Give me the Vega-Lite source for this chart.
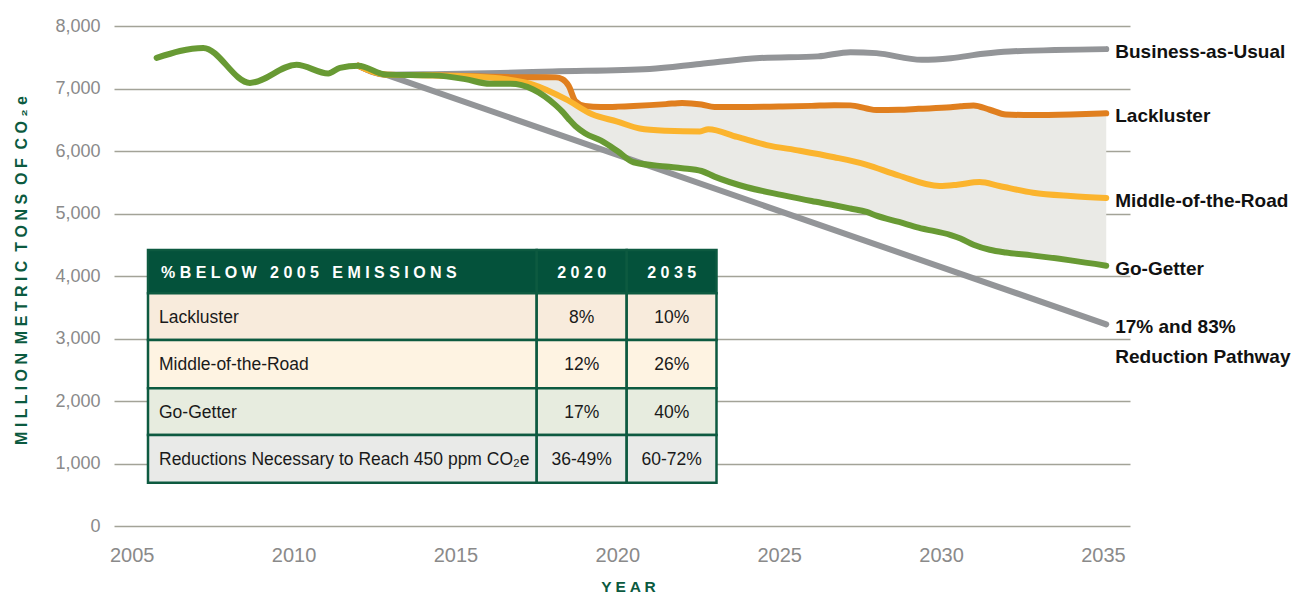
{
  "$schema": "https://vega.github.io/schema/vega-lite/v6.json",
  "width": 1016,
  "height": 500,
  "autosize": "none",
  "padding": {"left": 114, "top": 26, "right": 168, "bottom": 68},
  "background": "white",
  "config": {
    "view": {"stroke": null},
    "font": "Liberation Sans",
    "axis": {"labelFont": "Liberation Sans", "titleFont": "Liberation Sans"}
  },
  "datasets": {
    "lines": [
      {"series": "Go-Getter", "year": 2005.77, "value": 7490},
      {"series": "Go-Getter", "year": 2007.21, "value": 7650},
      {"series": "Go-Getter", "year": 2008.65, "value": 7090},
      {"series": "Go-Getter", "year": 2010.09, "value": 7380},
      {"series": "Go-Getter", "year": 2011.07, "value": 7240},
      {"series": "Go-Getter", "year": 2011.43, "value": 7330},
      {"series": "Go-Getter", "year": 2012.0, "value": 7365},
      {"series": "Go-Getter", "year": 2012.85, "value": 7222},
      {"series": "Go-Getter", "year": 2014.3, "value": 7210},
      {"series": "Go-Getter", "year": 2015.3, "value": 7150},
      {"series": "Go-Getter", "year": 2016.06, "value": 7075},
      {"series": "Go-Getter", "year": 2016.7, "value": 7075},
      {"series": "Go-Getter", "year": 2017.4, "value": 6985},
      {"series": "Go-Getter", "year": 2018.1, "value": 6730},
      {"series": "Go-Getter", "year": 2018.3, "value": 6630},
      {"series": "Go-Getter", "year": 2018.5, "value": 6510},
      {"series": "Go-Getter", "year": 2018.7, "value": 6400},
      {"series": "Go-Getter", "year": 2019.0, "value": 6285},
      {"series": "Go-Getter", "year": 2019.5, "value": 6165},
      {"series": "Go-Getter", "year": 2020.0, "value": 6000},
      {"series": "Go-Getter", "year": 2020.5, "value": 5820},
      {"series": "Go-Getter", "year": 2021.5, "value": 5752},
      {"series": "Go-Getter", "year": 2022.0, "value": 5725},
      {"series": "Go-Getter", "year": 2022.6, "value": 5680},
      {"series": "Go-Getter", "year": 2023.0, "value": 5590},
      {"series": "Go-Getter", "year": 2024.0, "value": 5420},
      {"series": "Go-Getter", "year": 2025.1, "value": 5295},
      {"series": "Go-Getter", "year": 2026.0, "value": 5200},
      {"series": "Go-Getter", "year": 2026.7, "value": 5133},
      {"series": "Go-Getter", "year": 2027.2, "value": 5080},
      {"series": "Go-Getter", "year": 2027.7, "value": 5025},
      {"series": "Go-Getter", "year": 2028.0, "value": 4965},
      {"series": "Go-Getter", "year": 2028.7, "value": 4865},
      {"series": "Go-Getter", "year": 2029.3, "value": 4775},
      {"series": "Go-Getter", "year": 2030.3, "value": 4655},
      {"series": "Go-Getter", "year": 2030.6, "value": 4600},
      {"series": "Go-Getter", "year": 2031.0, "value": 4500},
      {"series": "Go-Getter", "year": 2031.5, "value": 4420},
      {"series": "Go-Getter", "year": 2032.0, "value": 4375},
      {"series": "Go-Getter", "year": 2032.8, "value": 4330},
      {"series": "Go-Getter", "year": 2034.0, "value": 4250},
      {"series": "Go-Getter", "year": 2035.1, "value": 4165},

      {"series": "Lackluster", "year": 2012.0, "value": 7365},
      {"series": "Lackluster", "year": 2012.85, "value": 7222},
      {"series": "Lackluster", "year": 2014.3, "value": 7212},
      {"series": "Lackluster", "year": 2015.3, "value": 7200},
      {"series": "Lackluster", "year": 2016.06, "value": 7188},
      {"series": "Lackluster", "year": 2016.7, "value": 7182},
      {"series": "Lackluster", "year": 2017.4, "value": 7180},
      {"series": "Lackluster", "year": 2018.1, "value": 7178},
      {"series": "Lackluster", "year": 2018.3, "value": 7150},
      {"series": "Lackluster", "year": 2018.5, "value": 7040},
      {"series": "Lackluster", "year": 2018.7, "value": 6800},
      {"series": "Lackluster", "year": 2019.0, "value": 6720},
      {"series": "Lackluster", "year": 2019.5, "value": 6705},
      {"series": "Lackluster", "year": 2020.0, "value": 6710},
      {"series": "Lackluster", "year": 2020.5, "value": 6720},
      {"series": "Lackluster", "year": 2021.5, "value": 6750},
      {"series": "Lackluster", "year": 2022.0, "value": 6770},
      {"series": "Lackluster", "year": 2022.6, "value": 6745},
      {"series": "Lackluster", "year": 2023.0, "value": 6705},
      {"series": "Lackluster", "year": 2024.0, "value": 6705},
      {"series": "Lackluster", "year": 2025.1, "value": 6712},
      {"series": "Lackluster", "year": 2026.0, "value": 6722},
      {"series": "Lackluster", "year": 2026.7, "value": 6732},
      {"series": "Lackluster", "year": 2027.2, "value": 6730},
      {"series": "Lackluster", "year": 2027.7, "value": 6680},
      {"series": "Lackluster", "year": 2028.0, "value": 6655},
      {"series": "Lackluster", "year": 2028.7, "value": 6660},
      {"series": "Lackluster", "year": 2029.3, "value": 6675},
      {"series": "Lackluster", "year": 2030.3, "value": 6700},
      {"series": "Lackluster", "year": 2030.6, "value": 6715},
      {"series": "Lackluster", "year": 2031.0, "value": 6730},
      {"series": "Lackluster", "year": 2031.5, "value": 6660},
      {"series": "Lackluster", "year": 2032.0, "value": 6585},
      {"series": "Lackluster", "year": 2032.8, "value": 6575},
      {"series": "Lackluster", "year": 2034.0, "value": 6585},
      {"series": "Lackluster", "year": 2035.1, "value": 6603},

      {"series": "Middle-of-the-Road", "year": 2012.0, "value": 7365},
      {"series": "Middle-of-the-Road", "year": 2012.85, "value": 7222},
      {"series": "Middle-of-the-Road", "year": 2014.3, "value": 7212},
      {"series": "Middle-of-the-Road", "year": 2015.3, "value": 7198},
      {"series": "Middle-of-the-Road", "year": 2016.4, "value": 7160},
      {"series": "Middle-of-the-Road", "year": 2017.39, "value": 7063},
      {"series": "Middle-of-the-Road", "year": 2018.42, "value": 6826},
      {"series": "Middle-of-the-Road", "year": 2019.22, "value": 6587},
      {"series": "Middle-of-the-Road", "year": 2020.0, "value": 6470},
      {"series": "Middle-of-the-Road", "year": 2020.69, "value": 6360},
      {"series": "Middle-of-the-Road", "year": 2021.5, "value": 6325},
      {"series": "Middle-of-the-Road", "year": 2022.55, "value": 6313},
      {"series": "Middle-of-the-Road", "year": 2022.81, "value": 6349},
      {"series": "Middle-of-the-Road", "year": 2023.7, "value": 6225},
      {"series": "Middle-of-the-Road", "year": 2024.61, "value": 6095},
      {"series": "Middle-of-the-Road", "year": 2025.64, "value": 6005},
      {"series": "Middle-of-the-Road", "year": 2026.7, "value": 5900},
      {"series": "Middle-of-the-Road", "year": 2027.68, "value": 5783},
      {"series": "Middle-of-the-Road", "year": 2028.69, "value": 5608},
      {"series": "Middle-of-the-Road", "year": 2029.95, "value": 5440},
      {"series": "Middle-of-the-Road", "year": 2030.5, "value": 5460},
      {"series": "Middle-of-the-Road", "year": 2031.19, "value": 5503},
      {"series": "Middle-of-the-Road", "year": 2031.8, "value": 5440},
      {"series": "Middle-of-the-Road", "year": 2032.84, "value": 5333},
      {"series": "Middle-of-the-Road", "year": 2034.0, "value": 5280},
      {"series": "Middle-of-the-Road", "year": 2035.1, "value": 5249},

      {"series": "Business-as-Usual", "year": 2012.0, "value": 7365},
      {"series": "Business-as-Usual", "year": 2012.85, "value": 7222},
      {"series": "Business-as-Usual", "year": 2014.3, "value": 7228},
      {"series": "Business-as-Usual", "year": 2016.38, "value": 7249},
      {"series": "Business-as-Usual", "year": 2018.0, "value": 7272},
      {"series": "Business-as-Usual", "year": 2021.0, "value": 7312},
      {"series": "Business-as-Usual", "year": 2022.55, "value": 7392},
      {"series": "Business-as-Usual", "year": 2024.4, "value": 7487},
      {"series": "Business-as-Usual", "year": 2026.2, "value": 7514},
      {"series": "Business-as-Usual", "year": 2027.2, "value": 7582},
      {"series": "Business-as-Usual", "year": 2028.0, "value": 7566},
      {"series": "Business-as-Usual", "year": 2029.4, "value": 7460},
      {"series": "Business-as-Usual", "year": 2030.3, "value": 7485},
      {"series": "Business-as-Usual", "year": 2031.3, "value": 7556},
      {"series": "Business-as-Usual", "year": 2032.1, "value": 7592},
      {"series": "Business-as-Usual", "year": 2035.1, "value": 7630},

      {"series": "17% and 83%\nReduction Pathway", "year": 2012.85, "value": 7222},
      {"series": "17% and 83%\nReduction Pathway", "year": 2035.1, "value": 3227}
    ],
    "table": [
      {"row": 0, "col": 0, "text": "% B E L O W \u00a0 2 0 0 5 \u00a0 E M I S S I O N S"},
      {"row": 0, "col": 1, "text": "2 0 2 0"},
      {"row": 0, "col": 2, "text": "2 0 3 5"},
      {"row": 1, "col": 0, "text": "Lackluster"},
      {"row": 1, "col": 1, "text": "8%"},
      {"row": 1, "col": 2, "text": "10%"},
      {"row": 2, "col": 0, "text": "Middle-of-the-Road"},
      {"row": 2, "col": 1, "text": "12%"},
      {"row": 2, "col": 2, "text": "26%"},
      {"row": 3, "col": 0, "text": "Go-Getter"},
      {"row": 3, "col": 1, "text": "17%"},
      {"row": 3, "col": 2, "text": "40%"},
      {"row": 4, "col": 0, "text": "Reductions Necessary to Reach 450 ppm CO₂e"},
      {"row": 4, "col": 1, "text": "36-49%"},
      {"row": 4, "col": 2, "text": "60-72%"}
    ]
  },
  "layer": [
    {
      "data": {"name": "lines"},
      "encoding": {
        "x": {
          "field": "year", "type": "quantitative",
          "scale": {"domain": [2004.453, 2035.834], "nice": false, "zero": false},
          "axis": {
            "values": [2005, 2010, 2015, 2020, 2025, 2030, 2035],
            "format": "d",
            "labelFontSize": 20,
            "labelColor": "#8a8a8a",
            "labelPadding": 19,
            "labelFlush": false,
            "ticks": false,
            "domain": false,
            "grid": false,
            "title": "Y E A R",
            "titleFontSize": 15.5,
            "titleFontWeight": "bold",
            "titleColor": "#0b5a40",
            "titleX": 514,
            "titleY": 65,
            "titleBaseline": "alphabetic",
            "titleAlign": "center"
          }
        },
        "y": {
          "field": "value", "type": "quantitative",
          "scale": {"domain": [0, 8000], "nice": false, "zero": true},
          "axis": {
            "values": [0, 1000, 2000, 3000, 4000, 5000, 6000, 7000, 8000],
            "format": ",d",
            "labelFontSize": 18,
            "labelColor": "#8a8a8a",
            "labelPadding": 14,
            "ticks": false,
            "domain": false,
            "grid": true,
            "gridColor": "#a3a398",
            "gridWidth": 1.3,
            "title": "M I L L I O N \u00a0M E T R I C \u00a0T O N S \u00a0O F \u00a0C O ₂ e",
            "titleFontSize": 16,
            "titleFontWeight": "bold",
            "titleColor": "#0b5a40",
            "titleAngle": -90,
            "titleX": -88,
            "titleY": 244,
            "titleBaseline": "alphabetic",
            "titleAlign": "center"
          }
        }
      },
      "layer": [
        {
          "transform": [
            {"filter": "datum.series === 'Lackluster' || datum.series === 'Go-Getter'"},
            {"filter": "datum.year >= 2012.8"},
            {"pivot": "series", "value": "value", "groupby": ["year"]}
          ],
          "mark": {"type": "area", "interpolate": "monotone", "color": "#eaeae6"},
          "encoding": {
            "y": {
              "field": "Lackluster", "type": "quantitative",
              "axis": {
                "values": [0, 1000, 2000, 3000, 4000, 5000, 6000, 7000, 8000],
                "format": ",d",
                "labelFontSize": 18,
                "labelColor": "#8a8a8a",
                "labelPadding": 14,
                "ticks": false,
                "domain": false,
                "grid": true,
                "gridColor": "#a3a398",
                "gridWidth": 1.3,
                "title": "M I L L I O N \u00a0M E T R I C \u00a0T O N S \u00a0O F \u00a0C O ₂ e",
                "titleFontSize": 16,
                "titleFontWeight": "bold",
                "titleColor": "#0b5a40",
                "titleAngle": -90,
                "titleX": -88,
                "titleY": 244,
                "titleBaseline": "alphabetic",
                "titleAlign": "center"
              }
            },
            "y2": {"field": "Go-Getter"}
          }
        },
        {
          "transform": [{"filter": "datum.series === 'Business-as-Usual'"}],
          "mark": {"type": "line", "interpolate": "monotone", "strokeWidth": 6, "strokeCap": "round"},
          "encoding": {
            "color": {"field": "series", "type": "nominal", "legend": null,
              "scale": {
                "domain": ["Business-as-Usual", "Lackluster", "Middle-of-the-Road", "Go-Getter", "17% and 83%\nReduction Pathway"],
                "range": ["#939598", "#e07f1f", "#fbb42e", "#689a34", "#939598"]
              }
            }
          }
        },
        {
          "transform": [{"filter": "indexof(datum.series, 'Pathway') >= 0"}],
          "mark": {"type": "line", "interpolate": "linear", "strokeWidth": 6, "strokeCap": "round"},
          "encoding": {"color": {"field": "series", "type": "nominal", "legend": null}}
        },
        {
          "transform": [{"filter": "datum.series === 'Lackluster'"}],
          "mark": {"type": "line", "interpolate": "monotone", "strokeWidth": 6, "strokeCap": "round"},
          "encoding": {"color": {"field": "series", "type": "nominal", "legend": null}}
        },
        {
          "transform": [{"filter": "datum.series === 'Middle-of-the-Road'"}],
          "mark": {"type": "line", "interpolate": "monotone", "strokeWidth": 6, "strokeCap": "round"},
          "encoding": {"color": {"field": "series", "type": "nominal", "legend": null}}
        },
        {
          "transform": [{"filter": "datum.series === 'Go-Getter'"}],
          "mark": {"type": "line", "interpolate": "monotone", "strokeWidth": 6, "strokeCap": "round"},
          "encoding": {"color": {"field": "series", "type": "nominal", "legend": null}}
        },
        {
          "transform": [
            {"joinaggregate": [{"op": "max", "field": "year", "as": "maxYear"}], "groupby": ["series"]},
            {"filter": "datum.year === datum.maxYear"}
          ],
          "mark": {
            "type": "text", "align": "left", "baseline": "alphabetic",
            "dx": 9, "dy": 9, "fontSize": 19, "fontWeight": "bold",
            "color": "#111111", "lineBreak": "\n", "lineHeight": 30
          },
          "encoding": {"text": {"field": "series"}}
        }
      ]
    },
    {
      "data": {"name": "table"},
      "transform": [
        {"bin": {"extent": [0, 3], "step": 1, "nice": false}, "field": "col", "as": ["c0", "c1"]},
        {"bin": {"extent": [0, 5], "step": 1, "nice": false}, "field": "row", "as": ["r0", "r1"]}
      ],
      "encoding": {
        "x": {"field": "c0", "type": "quantitative", "axis": null,
          "scale": {"domain": [0, 1, 2, 3], "range": [34, 422.7, 512.7, 602.5], "nice": false, "zero": false}},
        "y": {"field": "r0", "type": "quantitative", "axis": null,
          "scale": {"domain": [0, 1, 2, 3, 4, 5], "range": [224, 267.3, 314, 362.3, 409, 456.7], "nice": false, "zero": false}}
      },
      "layer": [
        {
          "mark": {"type": "rect", "stroke": "#0d5a40", "strokeWidth": 2.5},
          "encoding": {
            "x2": {"field": "c1"},
            "y2": {"field": "r1"},
            "fill": {"field": "row", "type": "nominal", "legend": null,
              "scale": {"domain": [0, 1, 2, 3, 4], "range": ["#04523b", "#f8ebdc", "#fef3e2", "#e7ecdf", "#e9eae8"]}}
          }
        },
        {
          "transform": [{"filter": "datum.row === 0 && datum.col === 0"}],
          "mark": {"type": "text", "align": "left", "baseline": "alphabetic", "dx": 13, "dy": 27.5,
            "fontSize": 16, "fontWeight": "bold", "color": "white"},
          "encoding": {"text": {"field": "text"}}
        },
        {
          "transform": [{"filter": "datum.row === 0 && datum.col > 0"}],
          "mark": {"type": "text", "align": "center", "baseline": "alphabetic", "dx": 45, "dy": 27.5,
            "fontSize": 16, "fontWeight": "bold", "color": "white"},
          "encoding": {"text": {"field": "text"}}
        },
        {
          "transform": [{"filter": "datum.row > 0 && datum.col === 0"}],
          "mark": {"type": "text", "align": "left", "baseline": "alphabetic", "dx": 11, "dy": 30,
            "fontSize": 17.5, "color": "#1a1a1a"},
          "encoding": {"text": {"field": "text"}}
        },
        {
          "transform": [{"filter": "datum.row > 0 && datum.col > 0"}],
          "mark": {"type": "text", "align": "center", "baseline": "alphabetic", "dx": 45, "dy": 30,
            "fontSize": 17.5, "color": "#1a1a1a"},
          "encoding": {"text": {"field": "text"}}
        }
      ]
    }
  ],
  "resolve": {"scale": {"x": "independent", "y": "independent"}}
}
